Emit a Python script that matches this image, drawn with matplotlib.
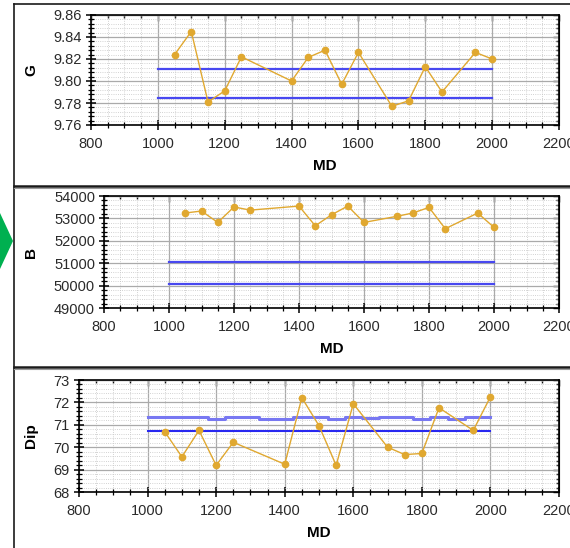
import matplotlib.pyplot as plt
from matplotlib.patches import Polygon
from matplotlib.lines import Line2D
from matplotlib.ticker import MultipleLocator, FormatStrFormatter

plt.rcParams["font.family"] = ["Liberation Sans", "DejaVu Sans"]

# Survey stations (measured depth) and the three QC channels
md = [1050, 1100, 1150, 1200, 1250, 1400, 1450, 1500, 1550, 1600,
      1700, 1750, 1800, 1850, 1950, 2000]
g_vals = [9.824, 9.845, 9.781, 9.791, 9.822, 9.800, 9.8215, 9.828, 9.797,
          9.826, 9.777, 9.782, 9.813, 9.790, 9.826, 9.820]
b_vals = [53240, 53330, 52820, 53510, 53370, 53550, 52670, 53160, 53550,
          52820, 53090, 53240, 53490, 52540, 53240, 52600]
dip_vals = [70.69, 69.57, 70.75, 69.19, 70.22, 69.24, 72.21, 70.96, 69.19,
            71.94, 70.00, 69.67, 69.72, 71.76, 70.75, 72.25]

# Tolerance limits over the survey interval
limit_md = [1000, 2000]
g_limits = [9.811, 9.785]
b_limits = [51060, 50060]
dip_low = 70.73
dip_high_md = [1000, 1175, 1225, 1325, 1425, 1525, 1575, 1625, 1675,
               1775, 1825, 1875, 1925, 2000]
dip_high = [71.33, 71.27, 71.33, 71.27, 71.33, 71.27, 71.33, 71.29, 71.33,
            71.27, 71.33, 71.27, 71.33, 71.33]

W, H = 570, 548
DATA_COLOR = "#e0a830"


def px_rect(left, top, right, bottom):
    return [left / W, 1 - bottom / H, (right - left) / W, (bottom - top) / H]


def style_axis(ax, ylim, ymajor, yminor, yfmt):
    ax.set_xlim(800, 2200)
    ax.set_ylim(*ylim)
    ax.xaxis.set_major_locator(MultipleLocator(200))
    ax.xaxis.set_minor_locator(MultipleLocator(50))
    ax.yaxis.set_major_locator(MultipleLocator(ymajor))
    ax.yaxis.set_minor_locator(MultipleLocator(yminor))
    ax.yaxis.set_major_formatter(FormatStrFormatter(yfmt))
    ax.grid(which="major", color="#aaaaaa", lw=0.9, ls="-")
    ax.grid(which="minor", color="#c4c4c4", lw=0.6, ls=":")
    ax.set_axisbelow(True)
    for sp in ax.spines.values():
        sp.set_linewidth(1.2)
    ax.tick_params(which="major", direction="inout", length=7, width=1.1,
                   labelsize=10.5, labelcolor="#2a2a2a", pad=3)
    ax.tick_params(which="minor", direction="inout", length=4, width=0.9)
    ax.tick_params(axis="x", which="major", pad=5)

    # top and right get inward ticks only
    top = ax.secondary_xaxis("top")
    top.xaxis.set_major_locator(MultipleLocator(200))
    top.xaxis.set_minor_locator(MultipleLocator(50))
    top.tick_params(which="both", direction="in", labeltop=False, width=1.0)
    top.tick_params(which="major", length=4)
    top.tick_params(which="minor", length=2.5)
    right = ax.secondary_yaxis("right")
    right.yaxis.set_major_locator(MultipleLocator(ymajor))
    right.yaxis.set_minor_locator(MultipleLocator(yminor))
    right.tick_params(which="both", direction="in", labelright=False, width=1.0)
    right.tick_params(which="major", length=4)
    right.tick_params(which="minor", length=2.5)

    ax.set_xlabel("MD", fontsize=11, fontweight="bold", labelpad=6)


def plot_series(ax, values):
    ax.plot(md, values, color=DATA_COLOR, lw=1.0, marker="o", ms=4.5,
            mec=DATA_COLOR, mfc=DATA_COLOR, zorder=4)


fig = plt.figure(figsize=(W / 100, H / 100), dpi=100)

ax_g = fig.add_axes(px_rect(91, 15, 559, 125))
for v in g_limits:
    ax_g.plot(limit_md, [v, v], color="#4848f0", lw=1.6, zorder=3)
plot_series(ax_g, g_vals)
style_axis(ax_g, (9.76, 9.86), 0.02, 0.004, "%.2f")

ax_b = fig.add_axes(px_rect(104, 196, 559, 308))
for v in b_limits:
    ax_b.plot(limit_md, [v, v], color="#4848f0", lw=1.6, zorder=3)
plot_series(ax_b, b_vals)
style_axis(ax_b, (49000, 54000), 1000, 200, "%d")

ax_d = fig.add_axes(px_rect(79, 380, 559, 492))
ax_d.plot(dip_high_md, dip_high, color="#7878f2", lw=2.2,
          drawstyle="steps-post", zorder=3)
ax_d.plot(limit_md, [dip_low, dip_low], color="#2828f0", lw=1.5, zorder=3)
plot_series(ax_d, dip_vals)
style_axis(ax_d, (68, 73), 1, 0.2, "%d")

for label, ytop, ybot in (("G", 15, 125), ("B", 196, 308), ("Dip", 380, 492)):
    fig.text(31 / W, 1 - (ytop + ybot) / 2 / H, label, rotation=90,
             ha="center", va="center", fontsize=11, fontweight="bold")

# panel frame: left rule, top rule and the separators between panels
def hline(y, lw, color="#1a1a1a"):
    fig.add_artist(Line2D([14 / W, 1], [1 - y / H, 1 - y / H], lw=lw,
                          color=color, transform=fig.transFigure))


fig.add_artist(Line2D([14 / W, 14 / W], [0, 1 - 4 / H], lw=1.2,
                      color="#1a1a1a", transform=fig.transFigure))
hline(4, 1.2)
for y in (186, 367):
    hline(y, 1.8)
    hline(y + 2, 0.8, "#9a9a9a")

# green pointer on the left edge
arrow = [(0, 213), (13, 241), (0, 269)]
fig.add_artist(Polygon([(x / W, 1 - y / H) for x, y in arrow], closed=True,
                       facecolor="#00b050", edgecolor="none",
                       transform=fig.transFigure))

fig.savefig("out.png", dpi=100)
